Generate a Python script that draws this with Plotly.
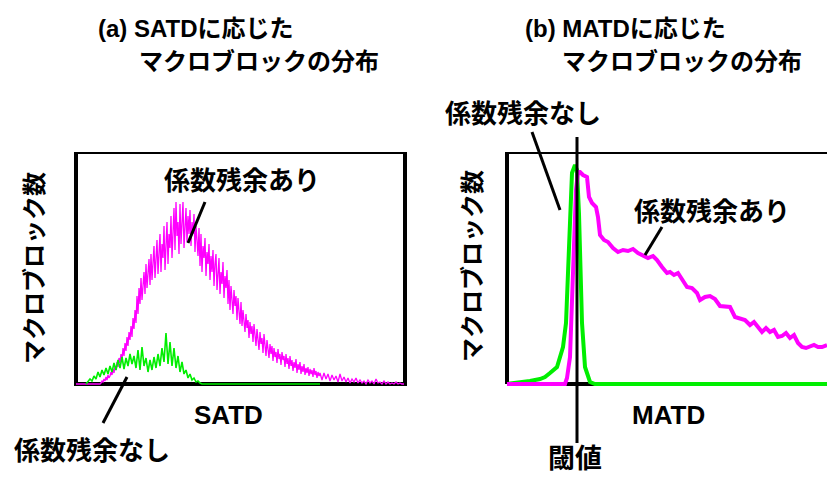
import plotly.graph_objects as go

W, H = 827, 477

# ---- (a) SATD histogram: macroblock counts per SATD bin ----
satd_bins_with = list(range(0, 25, 2)) + list(range(25, 245)) + list(range(246, 329, 2))
satd_counts_with = [
    0, 0, 0, 0, 0, 0, 0, 0, 0, 0, 0, 0, 0,
    1, 3, 2, 5, 3, 7, 4, 9, 6, 8,
    12, 9, 15, 11, 18, 14, 22, 17, 26, 21,
    30, 24, 36, 28, 41, 33, 47, 38, 52, 44,
    58, 47, 66, 55, 74, 61, 88, 70, 96, 80,
    106, 84, 98, 112, 90, 120, 96, 108, 125, 99,
    130, 104, 118, 138, 106, 124, 144, 110, 132, 150,
    112, 140, 126, 158, 114, 146, 162, 120, 150, 136,
    168, 126, 155, 176, 134, 182, 148, 162, 130, 180,
    140, 172, 182, 136, 160, 176, 142, 168, 150, 174,
    138, 162, 150, 170, 132, 158, 144, 128, 156, 118,
    150, 112, 138, 126, 146, 108, 132, 120, 140, 104,
    128, 112, 134, 98, 120, 130, 94, 116, 126, 90,
    112, 100, 122, 86, 108, 96, 114, 80, 104, 74,
    98, 84, 70, 94, 78, 88, 64, 86, 72, 60,
    82, 58, 74, 66, 52, 70, 56, 64, 46, 62,
    50, 58, 42, 60, 48, 38, 55, 44, 34, 52,
    40, 46, 31, 50, 36, 28, 44, 34, 26, 40,
    30, 38, 23, 36, 27, 32, 21, 35, 25, 30,
    19, 32, 24, 28, 17, 30, 20, 26, 15, 28,
    18, 24, 13, 22, 16, 25, 11, 20, 14, 22,
    10, 18, 12, 20, 9, 16, 11, 17, 8, 15,
    10, 14, 7, 16, 9, 13, 6, 12, 8, 11,
    4, 11, 5, 10, 3, 9, 4, 8, 2, 10,
    3, 7, 2, 6, 1, 5, 2, 6, 1, 4,
    1, 3, 0, 4, 1, 3, 0, 5, 1, 2,
    0, 3, 0, 2, 0, 1, 0, 2, 0, 1,
    0, 0,
]

satd_bins_none = list(range(10, 246, 2))
satd_counts_none = [
    0, 2, 5, 3, 8, 5, 12, 7, 14, 9,
    16, 10, 18, 12, 21, 14, 24, 16, 27, 15,
    26, 18, 30, 20, 28, 16, 34, 14, 37, 18,
    26, 12, 24, 14, 27, 16, 30, 18, 36, 22,
    51, 20, 42, 18, 36, 16, 28, 12, 22, 10,
    14, 6, 10, 4, 6, 2, 3, 1, 0,
    0, 0, 0, 0, 0, 0, 0, 0, 0, 0,
    0, 0, 0, 0, 0, 0, 0, 0, 0, 0,
    0, 0, 0, 0, 0, 0, 0, 0, 0, 0,
    0, 0, 0, 0, 0, 0, 0, 0, 0, 0,
    0, 0, 0, 0, 0, 0, 0, 0, 0, 0,
    0, 0, 0, 0, 0, 0, 0, 0, 0,
]

# ---- (b) MATD histogram ----
matd_bins_none = [0, 10, 16, 23, 33, 38, 43, 50, 56, 59, 61, 63, 65, 68, 70,
                  72, 75, 78, 83, 88, 320]
matd_counts_none = [0, 1, 2, 3, 5, 7, 11, 17, 37, 61, 111, 177, 211, 219, 214,
                    170, 61, 17, 2, 0, 0]

matd_bins_with = [0, 58, 60, 63, 66, 69, 71, 73, 76, 80, 82, 85, 89, 91, 93,
                  97, 101, 106, 111, 116, 121, 126, 131, 136, 141, 146, 150,
                  155, 160, 163, 167, 171, 175, 180, 185, 190, 193, 198, 203,
                  208, 213, 218, 223, 228, 233, 238, 243, 247, 251, 255, 259,
                  263, 267, 271, 275, 279, 283, 287, 291, 295, 299, 303, 307,
                  311, 315, 320]
matd_counts_with = [0, 0, 6, 27, 111, 194, 212, 212, 209, 207, 187, 181, 177,
                    167, 149, 144, 142, 136, 132, 134, 133, 135, 131, 129, 126,
                    128, 124, 117, 111, 112, 109, 111, 104, 97, 96, 91, 84, 87,
                    88, 85, 78, 78, 77, 67, 66, 64, 59, 62, 57, 52, 56, 52, 54,
                    47, 48, 51, 46, 49, 41, 37, 36, 37, 39, 37, 37, 39]

matd_threshold = 70

MAGENTA = "#ff00ff"
GREEN = "#00ee00"
FONT = "Liberation Sans, Noto Sans CJK JP, Arial, sans-serif"


def fx(x):
    return x / W


def fy(y):
    return 1 - y / H


fig = go.Figure()

# (a) panel: with-residual first, then no-residual on top
fig.add_trace(go.Scatter(x=satd_bins_with, y=satd_counts_with, mode="lines",
                         line=dict(color=MAGENTA, width=1.3), xaxis="x", yaxis="y",
                         hoverinfo="skip"))
fig.add_trace(go.Scatter(x=satd_bins_none, y=satd_counts_none, mode="lines",
                         line=dict(color=GREEN, width=1.6), xaxis="x", yaxis="y",
                         hoverinfo="skip"))

# (b) panel: no-residual first, then with-residual on top
fig.add_trace(go.Scatter(x=matd_bins_none, y=matd_counts_none, mode="lines",
                         line=dict(color=GREEN, width=4), xaxis="x2", yaxis="y2",
                         hoverinfo="skip"))
fig.add_trace(go.Scatter(x=matd_bins_with, y=matd_counts_with, mode="lines",
                         line=dict(color=MAGENTA, width=4), xaxis="x2", yaxis="y2",
                         hoverinfo="skip"))

ydom = [fy(387), fy(152)]
axis_off = dict(showgrid=False, zeroline=False, showticklabels=False,
                ticks="", showline=False, fixedrange=True)

fig.update_layout(
    width=W, height=H,
    margin=dict(l=0, r=0, t=0, b=0),
    paper_bgcolor="white", plot_bgcolor="white",
    showlegend=False,
    xaxis=dict(domain=[fx(76), fx(405)], range=[0, 329], **axis_off),
    yaxis=dict(domain=ydom, range=[-3, 232], **axis_off),
    xaxis2=dict(domain=[fx(507), 1.0], range=[0, 320], anchor="y2", **axis_off),
    yaxis2=dict(domain=ydom, range=[-3, 232], anchor="x2", **axis_off),
)

BLACK = "black"
shapes = [
    # frame of panel (a)
    dict(type="rect", xref="x domain", yref="y", x0=0, x1=1, y0=0, y1=232,
         line=dict(color=BLACK, width=4), layer="below"),
    # frame of panel (b): left, top, bottom (runs off the right edge)
    dict(type="line", xref="x2 domain", yref="y2", x0=0, x1=0, y0=0, y1=232,
         line=dict(color=BLACK, width=4), layer="below"),
    dict(type="line", xref="x2 domain", yref="y2", x0=0, x1=1, y0=232, y1=232,
         line=dict(color=BLACK, width=4), layer="below"),
    dict(type="line", xref="x2 domain", yref="y2", x0=0, x1=1, y0=0, y1=0,
         line=dict(color=BLACK, width=4), layer="below"),
    # threshold marker
    dict(type="line", xref="x2", yref="paper", x0=matd_threshold, x1=matd_threshold,
         y0=fy(443), y1=fy(137), line=dict(color=BLACK, width=3)),
    # label leader lines
    dict(type="line", xref="paper", yref="paper", x0=fx(205), y0=fy(202),
         x1=fx(188), y1=fy(243), line=dict(color=BLACK, width=3)),
    dict(type="line", xref="paper", yref="paper", x0=fx(103), y0=fy(423),
         x1=fx(127), y1=fy(377), line=dict(color=BLACK, width=3)),
    dict(type="line", xref="paper", yref="paper", x0=fx(532), y0=fy(132),
         x1=fx(560), y1=fy(210), line=dict(color=BLACK, width=3)),
    dict(type="line", xref="paper", yref="paper", x0=fx(662), y0=fy(227),
         x1=fx(645), y1=fy(255), line=dict(color=BLACK, width=3)),
]
fig.update_layout(shapes=shapes)


def label(text, x, y, size, xanchor="center", angle=0):
    return dict(text="<b>" + text + "</b>", xref="paper", yref="paper",
                x=fx(x), y=fy(y), xanchor=xanchor, yanchor="middle",
                showarrow=False, textangle=angle,
                font=dict(family=FONT, size=size, color=BLACK))


annotations = [
    label("(a) SATDに応じた", 96, 28, 24, "left"),
    label("マクロブロックの分布", 137, 61, 24, "left"),
    label("(b) MATDに応じた", 523, 28, 24, "left"),
    label("マクロブロックの分布", 560, 61, 24, "left"),
    label("マクロブロック数", 34, 268, 24, angle=-90),
    label("マクロブロック数", 472, 266, 24, angle=-90),
    label("SATD", 228, 415, 26),
    label("MATD", 668, 415, 26),
    label("係数残余あり", 242, 181, 26),
    label("係数残余なし", 92, 451, 26),
    label("係数残余なし", 523, 114, 26),
    label("係数残余あり", 712, 212, 26),
    label("閾値", 575, 459, 27),
]
fig.update_layout(annotations=annotations)

fig.write_html("out.html")
